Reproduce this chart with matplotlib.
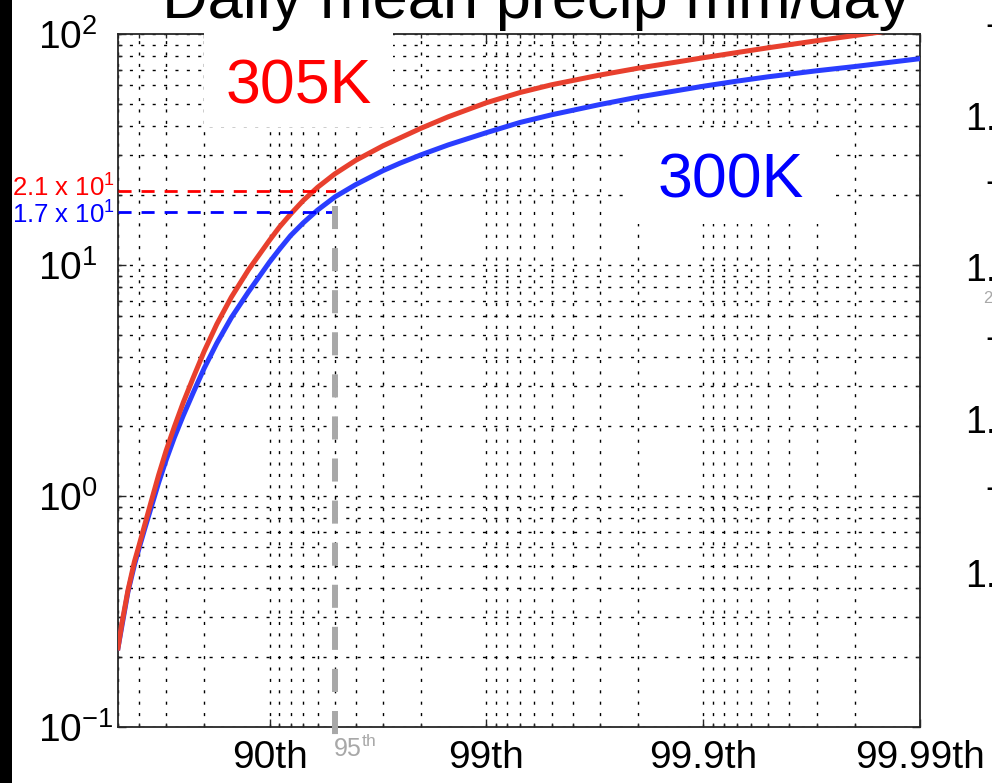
import numpy as np
import matplotlib
matplotlib.use("Agg")
import matplotlib.pyplot as plt
from matplotlib.patches import Rectangle
from matplotlib.ticker import FixedLocator, FixedFormatter, LogLocator, NullFormatter

plt.rcParams['font.family'] = ['Liberation Sans', 'DejaVu Sans']
plt.rcParams['mathtext.fontset'] = 'custom'
plt.rcParams['mathtext.rm'] = 'Liberation Sans'
plt.rcParams['mathtext.it'] = 'Liberation Sans:italic'
plt.rcParams['mathtext.bf'] = 'Liberation Sans:bold'
plt.rcParams['lines.scale_dashes'] = False

# percentiles of daily-mean precipitation
percentile = np.array([50, 52, 55, 58, 60, 62.5, 65, 67.5, 70, 72.5, 75, 77.5, 80, 82.5,
                       85, 87.5, 90, 91, 92, 93, 94, 95, 96, 97, 97.5, 98, 98.5, 99,
                       99.3, 99.5, 99.7, 99.8, 99.9, 99.93, 99.95, 99.97, 99.98, 99.99])
# precipitation (mm/day) at each percentile
precip_305K = [0.22, 0.28, 0.39, 0.52, 0.61, 0.76, 0.96, 1.23, 1.57, 1.99, 2.54, 3.25,
               4.24, 5.55, 7.26, 9.54, 12.8, 14.6, 16.6, 19.0, 21.7, 24.8, 28.4, 32.8,
               35.5, 39.1, 43.8, 50.4, 55.8, 60.3, 66.4, 71.1, 78.9, 83.1, 87.2, 93.5,
               98.5, 107.6]
precip_300K = [0.22, 0.273, 0.384, 0.503, 0.593, 0.73, 0.905, 1.14, 1.43, 1.79, 2.23, 2.80,
               3.58, 4.59, 5.92, 7.66, 10.3, 11.7, 13.4, 15.2, 17.3, 19.7, 22.3, 25.6,
               27.6, 30.0, 33.1, 37.4, 41.4, 44.7, 49.5, 53.3, 59.4, 62.5, 65.3, 69.3,
               72.3, 78.2]

xtick_pct = [90, 99, 99.9, 99.99]
xtick_labels = ['90th', '99th', '99.9th', '99.99th']
ytick_vals = [0.1, 1, 10, 100]
ytick_labels = [r'$10^{-1}$', r'$10^{0}$', r'$10^{1}$', r'$10^{2}$']

marker_pct = 95
value_305K = 21
value_300K = 17

W, H = 992, 783
fig = plt.figure(figsize=(W / 100, H / 100), dpi=100)
ax = fig.add_axes([118 / W, 1 - 727 / H, (920 - 118) / W, (727 - 34) / H])

exceed = 1 - percentile / 100.0
ax.set_xscale('log')
ax.set_yscale('log')
ax.set_xlim(0.5, 1e-4)
ax.set_ylim(0.1, 100)

ax.plot(exceed, precip_300K, color='#2a3dff', lw=3.6, zorder=4)
ax.plot(exceed, precip_305K, color='#e8402e', lw=3.6, zorder=5)

# dotted grid on every decade and sub-decade
ax.grid(True, which='both', color='black', linestyle=(0, (2.2, 6.0)), linewidth=1.0)

ax.xaxis.set_major_locator(FixedLocator([1 - p / 100.0 for p in xtick_pct]))
ax.xaxis.set_major_formatter(FixedFormatter(xtick_labels))
ax.xaxis.set_minor_locator(LogLocator(base=10, subs=np.arange(2, 10), numticks=30))
ax.xaxis.set_minor_formatter(NullFormatter())
ax.yaxis.set_major_locator(FixedLocator(ytick_vals))
ax.yaxis.set_major_formatter(FixedFormatter(ytick_labels))
ax.yaxis.set_minor_locator(LogLocator(base=10, subs=np.arange(2, 10), numticks=30))
ax.yaxis.set_minor_formatter(NullFormatter())

ax.tick_params(which='both', direction='in', top=True, right=True, color='#262626', width=1.0)
ax.tick_params(which='major', length=5.8, labelsize=28)
ax.tick_params(which='minor', length=2.9)
ax.tick_params(axis='x', which='major', pad=9.5)
ax.tick_params(axis='y', which='major', pad=57.6)
for lab in ax.get_yticklabels():
    lab.set_ha('left')
for sp in ax.spines.values():
    sp.set_linewidth(1.3)
    sp.set_color('#262626')

# 95th percentile marker and the two values read there
q_mark = 1 - marker_pct / 100.0
ax.plot([0.5, q_mark], [value_305K, value_305K], color='#ff0000', lw=2.0,
        linestyle=(0, (9.4, 7.2)), zorder=6)
ax.plot([0.5, q_mark], [value_300K, value_300K], color='#0000ff', lw=2.0,
        linestyle=(0, (9.4, 7.2)), zorder=6)
ytop = (np.log10(value_300K * 1.06) + 1) / 3.0
ax.plot([q_mark, q_mark], [ytop, -0.012], transform=ax.get_xaxis_transform(),
        color='#a8a8a8', lw=4.3, linestyle=(0, (16.6, 13.7)), clip_on=False, zorder=7)
ax.annotate(r'95$^{\mathrm{th}}$', xy=(q_mark, 0), xycoords=('data', 'axes fraction'),
            xytext=(-1, -6), textcoords='offset points', ha='left', va='top',
            fontsize=18, color='#a8a8a8')
ax.annotate(r'2.1 x 10$^{1}$', xy=(0, value_305K), xycoords=('axes fraction', 'data'),
            xytext=(-2.2, -4.3), textcoords='offset points', ha='right', va='baseline',
            fontsize=18.5, color='#ff0000')
ax.annotate(r'1.7 x 10$^{1}$', xy=(0, value_300K), xycoords=('axes fraction', 'data'),
            xytext=(-2.2, -8.6), textcoords='offset points', ha='right', va='baseline',
            fontsize=18.5, color='#0000ff')

# white label boxes
fig.add_artist(Rectangle((204 / W, 1 - 127 / H), 189 / W, 101 / H, transform=fig.transFigure,
                         facecolor='white', edgecolor='none', zorder=3))
fig.add_artist(Rectangle((630 / W, 1 - 224 / H), 203 / W, 96 / H, transform=fig.transFigure,
                         facecolor='white', edgecolor='none', zorder=3))
fig.text(299 / W, 1 - 103 / H, '305K', ha='center', va='baseline', fontsize=45,
         color='#ff0000', zorder=4)
fig.text(731 / W, 1 - 198 / H, '300K', ha='center', va='baseline', fontsize=45,
         color='#0000ff', zorder=4)

fig.text(536 / W, 1 - 18 / H, 'Daily mean precip mm/day', ha='center', va='baseline',
         fontsize=45.5, color='black')

# edge of the neighbouring panel
for yb in [130, 281, 433, 587]:
    fig.text(965 / W, 1 - yb / H, '1.', ha='left', va='baseline', fontsize=27, color='black')
for yb in [36, 193, 349, 499]:
    fig.text(985 / W, 1 - yb / H, '-', ha='left', va='baseline', fontsize=27, color='black')
fig.text(983 / W, 1 - 303 / H, '2', ha='left', va='baseline', fontsize=12, color='#a8a8a8')

fig.add_artist(Rectangle((0, 0), 12 / W, 1, transform=fig.transFigure,
                         facecolor='black', edgecolor='none', zorder=5))

fig.savefig('out.png', dpi=100)
